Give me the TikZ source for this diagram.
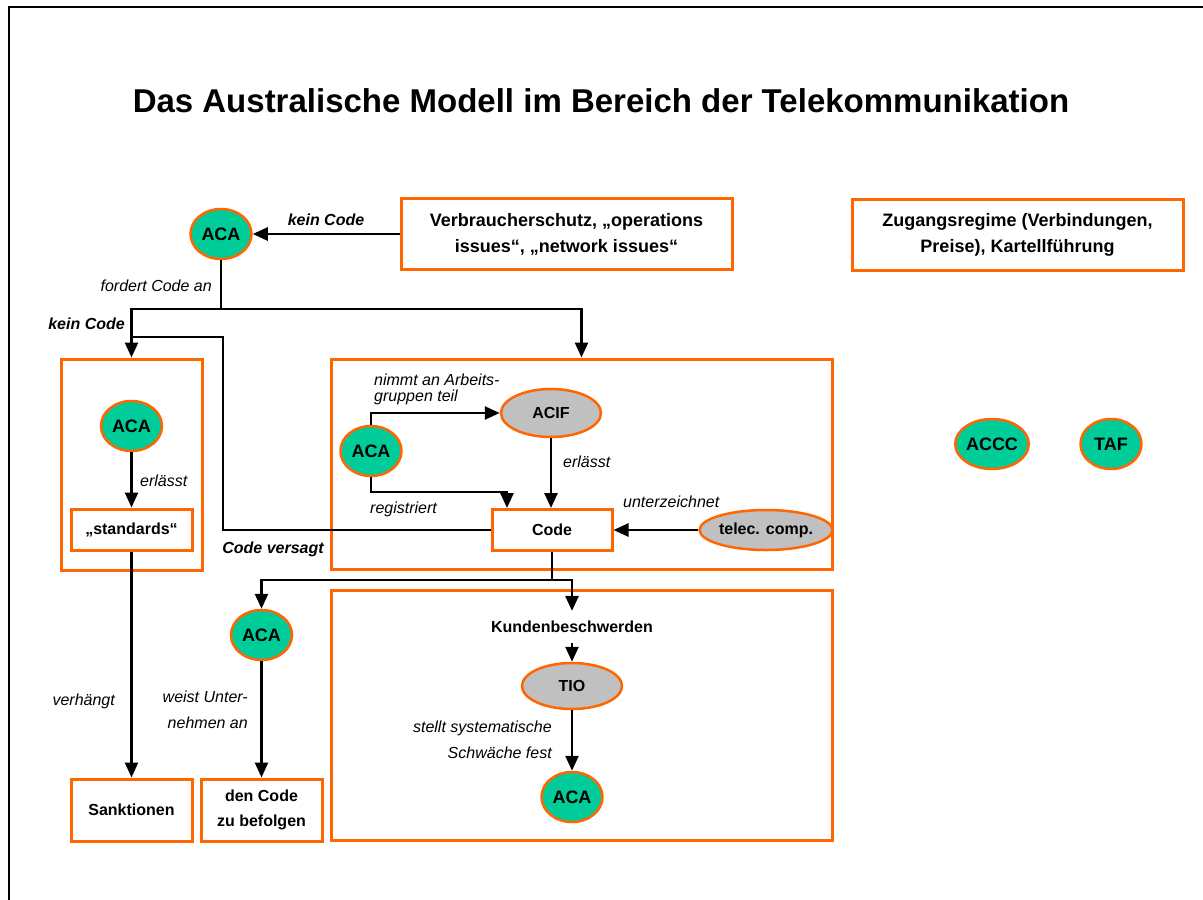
\documentclass[tikz,border=0pt]{standalone}
\usepackage{fontspec}
\setmainfont{Liberation Sans}
\usetikzlibrary{arrows.meta,positioning,shapes.geometric}

\definecolor{acaorange}{HTML}{FF6600}
\definecolor{acagreen}{HTML}{00CC99}
\definecolor{membergray}{HTML}{C0C0C0}

\tikzset{
  panel/.style={draw=acaorange,line width=3pt,inner sep=0pt},
  textbox/.style={panel,fill=white,align=center,font=\bfseries\fontsize{18}{26}\selectfont},
  smallbox/.style={textbox,font=\bfseries\fontsize{16}{25}\selectfont},
  agency/.style={ellipse,draw=acaorange,line width=2.5pt,fill=acagreen,inner sep=0pt,
    minimum width=61pt,minimum height=50pt,font=\bfseries\fontsize{18}{22}\selectfont},
  member/.style={ellipse,draw=acaorange,line width=2.5pt,fill=membergray,inner sep=0pt,
    font=\bfseries\fontsize{16}{20}\selectfont},
  lbl/.style={inner sep=0pt,font=\itshape\fontsize{16}{26}\selectfont},
  blbl/.style={inner sep=0pt,font=\bfseries\itshape\fontsize{16}{20}\selectfont},
  conn/.style={line width=2.6pt}
}

\begin{document}
\begin{tikzpicture}[x=1pt,y=-1pt,>={Triangle[length=15pt,width=13pt]}]
  \clip (0,0) rectangle (1203,900);
  \draw[line width=2.5pt] (9,7) rectangle (1230,930);

  \node[font=\bfseries\fontsize{33}{40}\selectfont,anchor=base] (title) at (601,112)
    {Das Australische Modell im Bereich der Telekommunikation};

  % top row
  \node[textbox,minimum width=331pt,minimum height=71pt] (consumer) at (566.5,234)
    {Verbraucherschutz, „operations\\issues“, „network issues“};
  \node[textbox,minimum width=331pt,minimum height=71pt] (access) at (1017.5,234.5)
    {Zugangsregime (Verbindungen,\\Preise), Kartellführung};
  \node[agency] (aca1) at (221,234) {ACA};
  \node[agency] (accc) at (992,444) {ACCC};
  \node[agency] (taf) at (1111,444) {TAF};

  % panels
  \node[panel,minimum width=141pt,minimum height=211pt] (leftpanel) at (131.5,464.5) {};
  \node[panel,minimum width=501pt,minimum height=210pt] (codepanel) at (581.5,464) {};
  \node[panel,minimum width=501pt,minimum height=250pt] (tiopanel) at (581.5,715) {};

  % left panel
  \node[agency] (aca4) at (131.5,426) {ACA};
  \node[smallbox,minimum width=121pt,minimum height=41pt] (standards) at (131.5,529.5) {„standards“};
  \node[smallbox,minimum width=121pt,minimum height=62pt] (sanctions) at (131.5,810) {Sanktionen};

  % code panel
  \node[agency] (aca3) at (371,451) {ACA};
  \node[member,minimum width=100pt,minimum height=48pt] (acif) at (551,413) {ACIF};
  \node[smallbox,minimum width=120pt,minimum height=41pt] (code) at (552,530) {Code};
  \node[member,minimum width=111pt,minimum height=40pt] (telec) at (766,530) {telec. comp.};

  % below
  \node[agency] (aca2) at (261.5,635) {ACA};
  \node[smallbox,minimum width=121pt,minimum height=62pt] (comply) at (261.5,810) {den Code\\zu befolgen};
  \node[font=\bfseries\fontsize{16}{20}\selectfont,inner sep=10pt] (complaints) at (572,627) {Kundenbeschwerden};
  \node[member,minimum width=100pt,minimum height=46pt] (tio) at (572,686) {TIO};
  \node[agency] (aca5) at (572,797) {ACA};

  % connectors
  \coordinate (request) at (221,309);
  \coordinate (failure) at (223,337);
  \coordinate (outflow) at (552,580);
  \coordinate (register) at (507,492);

  \draw[conn,->] (consumer.west) -- (aca1.east);
  \draw[conn] (aca1.south) -- (request);
  \draw[conn,->] (request) -| (leftpanel.north);
  \draw[conn,->] (request) -| (codepanel.north);
  \draw[conn] (code.west) -| (failure) -- (failure -| leftpanel.north);

  \draw[conn,->] (aca4.south) -- (standards.north);
  \draw[conn,->] (standards.south) -- (sanctions.north);

  \draw[conn,->] (aca3.north) |- (acif.west);
  \draw[conn,->] (acif.south) -- (acif.south |- code.north);
  \draw[conn,->] (aca3.south) |- (register) -- (register |- code.north);
  \draw[conn,->] (telec.west) -- (code.east);

  \draw[conn] (code.south) -- (outflow);
  \draw[conn,->] (outflow) -| (aca2.north);
  \draw[conn,->] (outflow) -| (complaints.north);
  \draw[conn,->] (aca2.south) -- (comply.north);
  \draw[conn,->] (complaints.south) -- (tio.north);
  \draw[conn,->] (tio.south) -- (aca5.north);

  % labels
  \node[blbl,anchor=base] (nocodetop) at (326,225) {kein Code};
  \node[lbl,anchor=base east] (requestlbl) at (212,291) {fordert Code an};
  \node[blbl,anchor=base east] (nocodeleft) at (125,329) {kein Code};
  \node[blbl,anchor=base] (failurelbl) at (273,553) {Code versagt};
  \node[lbl,anchor=base west] (issueleft) at (140,486) {erlässt};
  \node[lbl,anchor=base east] (imposelbl) at (115,705) {verhängt};
  \node[lbl,anchor=east,align=right] (directlbl) at (248,710) {weist Unter-\\nehmen an};
  \node[lbl,anchor=west,align=left,font=\itshape\fontsize{16}{16}\selectfont] (joinlbl) at (374,389)
    {nimmt an Arbeits-\\gruppen teil};
  \node[lbl,anchor=base west] (issuemid) at (563,467) {erlässt};
  \node[lbl,anchor=base west] (registerlbl) at (370,513) {registriert};
  \node[lbl,anchor=base west] (signlbl) at (623,507) {unterzeichnet};
  \node[lbl,anchor=east,align=right] (findlbl) at (552,740) {stellt systematische\\Schwäche fest};
\end{tikzpicture}
\end{document}
